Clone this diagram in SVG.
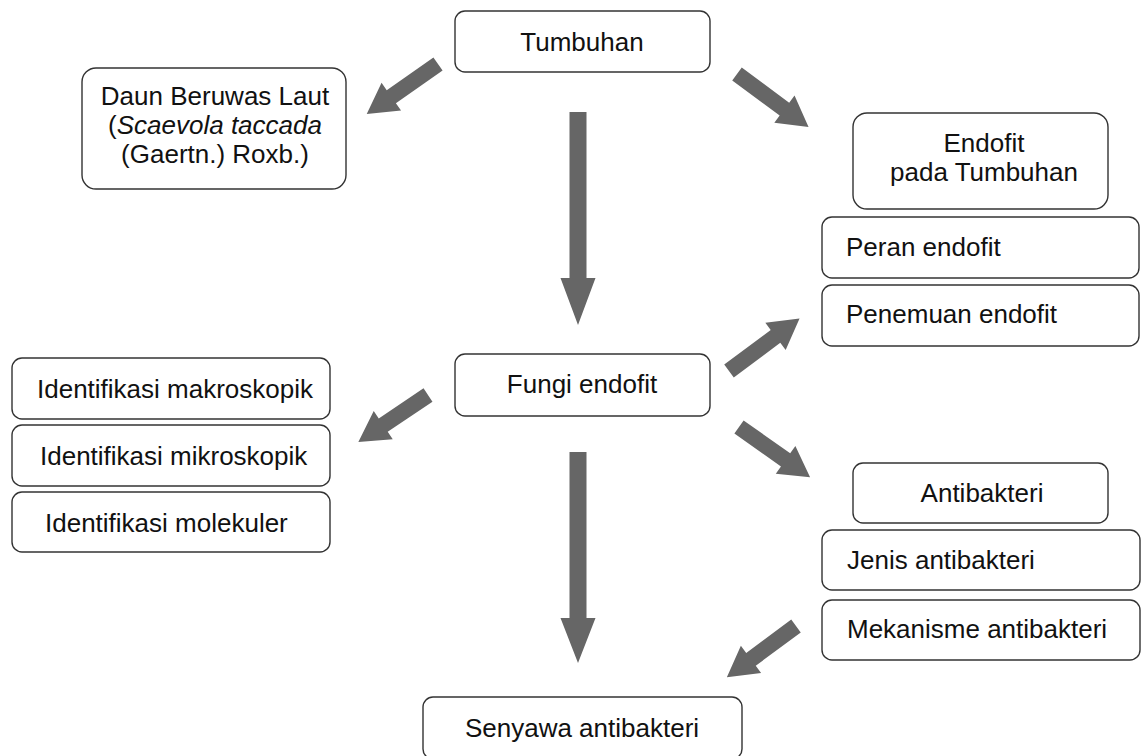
<svg xmlns="http://www.w3.org/2000/svg" width="1141" height="756" viewBox="0 0 1141 756">
<style>
.box{fill:#fff;stroke:#333;stroke-width:1.4}
.t{font-family:"Liberation Sans",Arial,sans-serif;font-size:26px;fill:#111}
.c{text-anchor:middle}
.arr{fill:#666;stroke:none}
</style>
<rect width="1141" height="756" fill="#fff"/>
<g id="connectors">
<path class="arr" transform="translate(438,64) rotate(145)" d="M0,-8 H57 V-17 L87,0 L57,17 V8 H0 Z"/>
<path class="arr" transform="translate(737,74) rotate(36.5)" d="M0,-8 H59 V-17 L89,0 L59,17 V8 H0 Z"/>
<path class="arr" transform="translate(578,112) rotate(90)" d="M0,-8.5 H166 V-17.5 L213,0 L166,17.5 V8.5 H0 Z"/>
<path class="arr" transform="translate(428,395) rotate(146)" d="M0,-8 H54 V-17 L84,0 L54,17 V8 H0 Z"/>
<path class="arr" transform="translate(729,371) rotate(-36.7)" d="M0,-8 H58 V-17 L88,0 L58,17 V8 H0 Z"/>
<path class="arr" transform="translate(739,427) rotate(35.2)" d="M0,-8 H57 V-17 L87,0 L57,17 V8 H0 Z"/>
<path class="arr" transform="translate(578,452) rotate(90)" d="M0,-8.5 H166 V-17.5 L211,0 L166,17.5 V8.5 H0 Z"/>
<path class="arr" transform="translate(796,626) rotate(143.5)" d="M0,-8 H56 V-17 L86,0 L56,17 V8 H0 Z"/>
</g>
<g id="tumbuhan">
<rect class="box" x="455" y="11" width="255" height="61" rx="10"/>
<text class="t c" x="582" y="51">Tumbuhan</text>
</g>
<g id="daun">
<rect class="box" x="82" y="68" width="264" height="121" rx="14"/>
<text class="t c" x="215" y="105">Daun Beruwas Laut</text>
<text class="t c" x="215" y="134">(<tspan font-style="italic">Scaevola taccada</tspan></text>
<text class="t c" x="215" y="163">(Gaertn.) Roxb.)</text>
</g>
<g id="endofit">
<rect class="box" x="853" y="113" width="255" height="96" rx="14"/>
<text class="t c" x="984" y="152">Endofit</text>
<text class="t c" x="984" y="181">pada Tumbuhan</text>
</g>
<g id="peran">
<rect class="box" x="822" y="217" width="317" height="61" rx="10"/>
<text class="t" x="846" y="256">Peran endofit</text>
</g>
<g id="penemuan">
<rect class="box" x="822" y="285" width="317" height="61" rx="10"/>
<text class="t" x="846" y="323">Penemuan endofit</text>
</g>
<g id="fungi">
<rect class="box" x="455" y="354" width="255" height="62" rx="10"/>
<text class="t c" x="582" y="393">Fungi endofit</text>
</g>
<g id="makro">
<rect class="box" x="12" y="358" width="318" height="61" rx="10"/>
<text class="t" x="37" y="398">Identifikasi makroskopik</text>
</g>
<g id="mikro">
<rect class="box" x="12" y="425" width="318" height="61" rx="10"/>
<text class="t" x="40" y="465">Identifikasi mikroskopik</text>
</g>
<g id="molekuler">
<rect class="box" x="12" y="492" width="318" height="60" rx="10"/>
<text class="t" x="45" y="532">Identifikasi molekuler</text>
</g>
<g id="antibakteri">
<rect class="box" x="853" y="463" width="255" height="60" rx="10"/>
<text class="t c" x="982" y="502">Antibakteri</text>
</g>
<g id="jenis">
<rect class="box" x="822" y="530" width="318" height="60" rx="10"/>
<text class="t" x="847" y="569">Jenis antibakteri</text>
</g>
<g id="mekanisme">
<rect class="box" x="822" y="600" width="318" height="60" rx="10"/>
<text class="t" x="847" y="638">Mekanisme antibakteri</text>
</g>
<g id="senyawa">
<rect class="box" x="423" y="697" width="319" height="62" rx="10"/>
<text class="t c" x="582" y="737">Senyawa antibakteri</text>
</g>
</svg>
